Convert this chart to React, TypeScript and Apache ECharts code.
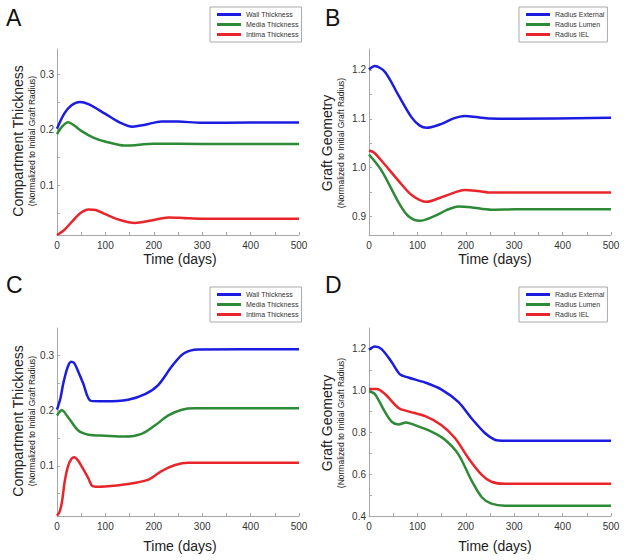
import React, { useEffect, useRef } from "react";
import * as echarts from "echarts";

// ---- data (time in days, value normalized) ----
const aWall = [[0,0.202],[15,0.229],[30,0.244],[47,0.250],[65,0.246],[99,0.229],[130,0.213],[156,0.2055],[182,0.209],[216,0.215],[250,0.2148],[300,0.2125],[400,0.2128],[500,0.213]];
const aMedia = [[0,0.192],[10,0.205],[23,0.2133],[35,0.208],[50,0.198],[75,0.186],[99,0.179],[140,0.1715],[200,0.1748],[300,0.1745],[500,0.1745]];
const aIntima = [[0,0.011],[15,0.02],[30,0.034],[48,0.05],[65,0.057],[80,0.056],[100,0.0485],[130,0.038],[161,0.0327],[195,0.037],[230,0.0424],[260,0.0415],[300,0.040],[500,0.040]];

const bExternal = [[0,1.201],[12,1.208],[33,1.196],[61,1.148],[88,1.103],[105,1.086],[119,1.0815],[150,1.0897],[175,1.101],[198,1.106],[225,1.103],[250,1.1005],[300,1.1],[500,1.102]];
const bLumen = [[0,1.027],[26,0.994],[61,0.929],[81,0.901],[105,0.891],[136,0.901],[160,0.913],[185,0.9205],[210,0.919],[253,0.9137],[300,0.9145],[500,0.915]];
const bIEL = [[0,1.035],[10,1.031],[26,1.014],[61,0.973],[88,0.944],[119,0.930],[157,0.942],[198,0.954],[225,0.952],[253,0.949],[500,0.949]];

const cWall = [[0,0.202],[7,0.222],[13,0.2496],[22,0.279],[29,0.289],[35,0.287],[41,0.277],[54,0.2496],[70,0.2178],[99,0.217],[147,0.220],[182,0.230],[209,0.2465],[237,0.280],[261,0.3034],[292,0.311],[500,0.3114]];
const cMedia = [[0,0.1914],[10,0.2006],[23,0.188],[44,0.164],[65,0.1565],[99,0.1547],[140,0.153],[175,0.158],[202,0.173],[230,0.1914],[258,0.2018],[285,0.2043],[500,0.2043]];
const cIntima = [[0,0.0097],[5,0.016],[10,0.033],[16,0.072],[23,0.1],[30,0.113],[36,0.1155],[44,0.109],[51,0.099],[65,0.077],[72,0.064],[80,0.0622],[99,0.0625],[147,0.067],[189,0.075],[216,0.0905],[244,0.1015],[271,0.1058],[500,0.1058]];

const dExternal = [[0,1.196],[12,1.212],[26,1.199],[47,1.1365],[64,1.078],[81,1.063],[116,1.039],[150,1.005],[185,0.945],[212,0.867],[240,0.796],[260,0.765],[281,0.76],[500,0.76]];
const dLumen = [[0,0.997],[12,0.984],[33,0.898],[47,0.851],[61,0.838],[76,0.848],[95,0.835],[129,0.804],[157,0.765],[185,0.694],[212,0.569],[233,0.49],[253,0.459],[281,0.449],[500,0.449]];
const dIEL = [[0,1.008],[16,1.008],[33,0.984],[61,0.917],[81,0.901],[116,0.878],[150,0.835],[178,0.772],[205,0.678],[233,0.597],[253,0.564],[281,0.554],[500,0.554]];

const thicknessNames = ["Wall Thickness", "Media Thickness", "Intima Thickness"];
const geometryNames = ["Radius External", "Radius Lumen", "Radius IEL"];

const xTickLabels = [0, 100, 200, 300, 400, 500];
const xTickMarks = [0, 50, 100, 150, 200, 250, 300, 350, 400, 450, 500];
const thickLabels = [0.1, 0.2, 0.3];
const thickMarks = [0.05, 0.1, 0.15, 0.2, 0.25, 0.3];
const bLabels = [0.9, 1.0, 1.1, 1.2];
const bMarks = [0.9, 0.95, 1.0, 1.05, 1.1, 1.15, 1.2];
const dLabels = [0.4, 0.6, 0.8, 1.0, 1.2];
const dMarks = [0.4, 0.5, 0.6, 0.7, 0.8, 0.9, 1.0, 1.1, 1.2];

const FONT = "'Liberation Sans', Arial, Helvetica, sans-serif";
const BLUE = "#1c1ce0";
const GREEN = "#2e8a36";
const RED = "#e8252b";
const AXIS = "#a8a8a8";

export default function App() {
  const ref = useRef<HTMLDivElement>(null);
  useEffect(() => {
    if (!ref.current) return;
    const chart = echarts.init(ref.current, null, { renderer: "svg" });

    const grids = [
      { left: 57, top: 49, width: 242, height: 186 },
      { left: 369, top: 49, width: 242, height: 186 },
      { left: 57, top: 328, width: 242, height: 188 },
      { left: 369, top: 328, width: 242, height: 188 },
    ];

    const xAx = (gi: number) => ({
      type: "value",
      gridIndex: gi,
      min: 0,
      max: 500,
      axisLine: { show: true, lineStyle: { color: AXIS, width: 1 } },
      axisTick: { show: true, inside: true, length: 3, customValues: xTickMarks, lineStyle: { color: AXIS } },
      axisLabel: { customValues: xTickLabels, color: "#333", fontSize: 10, margin: 5, fontFamily: FONT },
      splitLine: { show: false },
    });
    const yAx = (gi: number, min: number, max: number, labels: number[], marks: number[]) => ({
      type: "value",
      gridIndex: gi,
      min,
      max,
      axisLine: { show: true, lineStyle: { color: AXIS, width: 1 } },
      axisTick: { show: true, inside: true, length: 3, customValues: marks, lineStyle: { color: AXIS } },
      axisLabel: {
        customValues: labels,
        color: "#333",
        fontSize: 10,
        margin: 3,
        fontFamily: FONT,
        formatter: (v: number) => v.toFixed(1),
      },
      splitLine: { show: false },
    });

    const line = (name: string, data: number[][], color: string, gi: number) => ({
      type: "line",
      name,
      data,
      xAxisIndex: gi,
      yAxisIndex: gi,
      showSymbol: false,
      smooth: 0.3,
      lineStyle: { color, width: 2.5 },
      itemStyle: { color },
      silent: true,
    });

    const legend = (left: number, top: number, names: string[]) => ({
      left,
      top,
      orient: "vertical",
      data: names,
      icon: "rect",
      itemWidth: 24,
      itemHeight: 3,
      itemGap: 3,
      padding: [4, 3, 4, 7],
      borderColor: "#aaa",
      borderWidth: 1,
      backgroundColor: "#fff",
      selectedMode: false,
      textStyle: { fontSize: 7, color: "#333", fontFamily: FONT },
    });

    const letter = (t: string, x: number, y: number) => ({
      type: "text",
      left: x,
      top: y,
      style: { text: t, fill: "#111", font: `23px ${FONT}` },
    });
    const yTitle = (big: string, x: number, y: number) => [
      {
        type: "text",
        x,
        y,
        rotation: Math.PI / 2,
        style: { text: big, fill: "#222", font: `14px ${FONT}`, align: "center", verticalAlign: "middle" },
      },
      {
        type: "text",
        x: x + 14,
        y,
        rotation: Math.PI / 2,
        style: { text: "(Normalized to Initial Graft Radius)", fill: "#222", font: `8.5px ${FONT}`, align: "center", verticalAlign: "middle" },
      },
    ];
    const xTitle = (x: number, y: number) => ({
      type: "text",
      x,
      y,
      style: { text: "Time (days)", fill: "#222", font: `14px ${FONT}`, align: "center", verticalAlign: "middle" },
    });

    chart.setOption({
      animation: false,
      backgroundColor: "#fff",
      grid: grids,
      xAxis: [xAx(0), xAx(1), xAx(2), xAx(3)],
      yAxis: [
        yAx(0, 0.011, 0.345, thickLabels, thickMarks),
        yAx(1, 0.862, 1.243, bLabels, bMarks),
        yAx(2, 0.009, 0.35, thickLabels, thickMarks),
        yAx(3, 0.4, 1.3, dLabels, dMarks),
      ],
      legend: [
        legend(210, 7, thicknessNames),
        legend(519, 7, geometryNames),
        legend(210, 287, thicknessNames),
        legend(519, 287, geometryNames),
      ],
      series: [
        line(thicknessNames[0], aWall, BLUE, 0),
        line(thicknessNames[1], aMedia, GREEN, 0),
        line(thicknessNames[2], aIntima, RED, 0),
        line(geometryNames[0], bExternal, BLUE, 1),
        line(geometryNames[1], bLumen, GREEN, 1),
        line(geometryNames[2], bIEL, RED, 1),
        line(thicknessNames[0], cWall, BLUE, 2),
        line(thicknessNames[1], cMedia, GREEN, 2),
        line(thicknessNames[2], cIntima, RED, 2),
        line(geometryNames[0], dExternal, BLUE, 3),
        line(geometryNames[1], dLumen, GREEN, 3),
        line(geometryNames[2], dIEL, RED, 3),
      ],
      graphic: [
        letter("A", 6, 6),
        letter("B", 325, 6),
        letter("C", 6, 273),
        letter("D", 325, 273),
        ...yTitle("Compartment Thickness", 18, 141),
        ...yTitle("Graft Geometry", 327, 143),
        ...yTitle("Compartment Thickness", 18, 421),
        ...yTitle("Graft Geometry", 327, 423),
        xTitle(180, 259),
        xTitle(495, 259),
        xTitle(180, 546),
        xTitle(495, 546),
      ],
    });
    return () => chart.dispose();
  }, []);

  return (
    <div
      ref={ref}
      style={{ position: "absolute", left: 0, top: 0, width: 629, height: 560, background: "#fff" }}
    />
  );
}
